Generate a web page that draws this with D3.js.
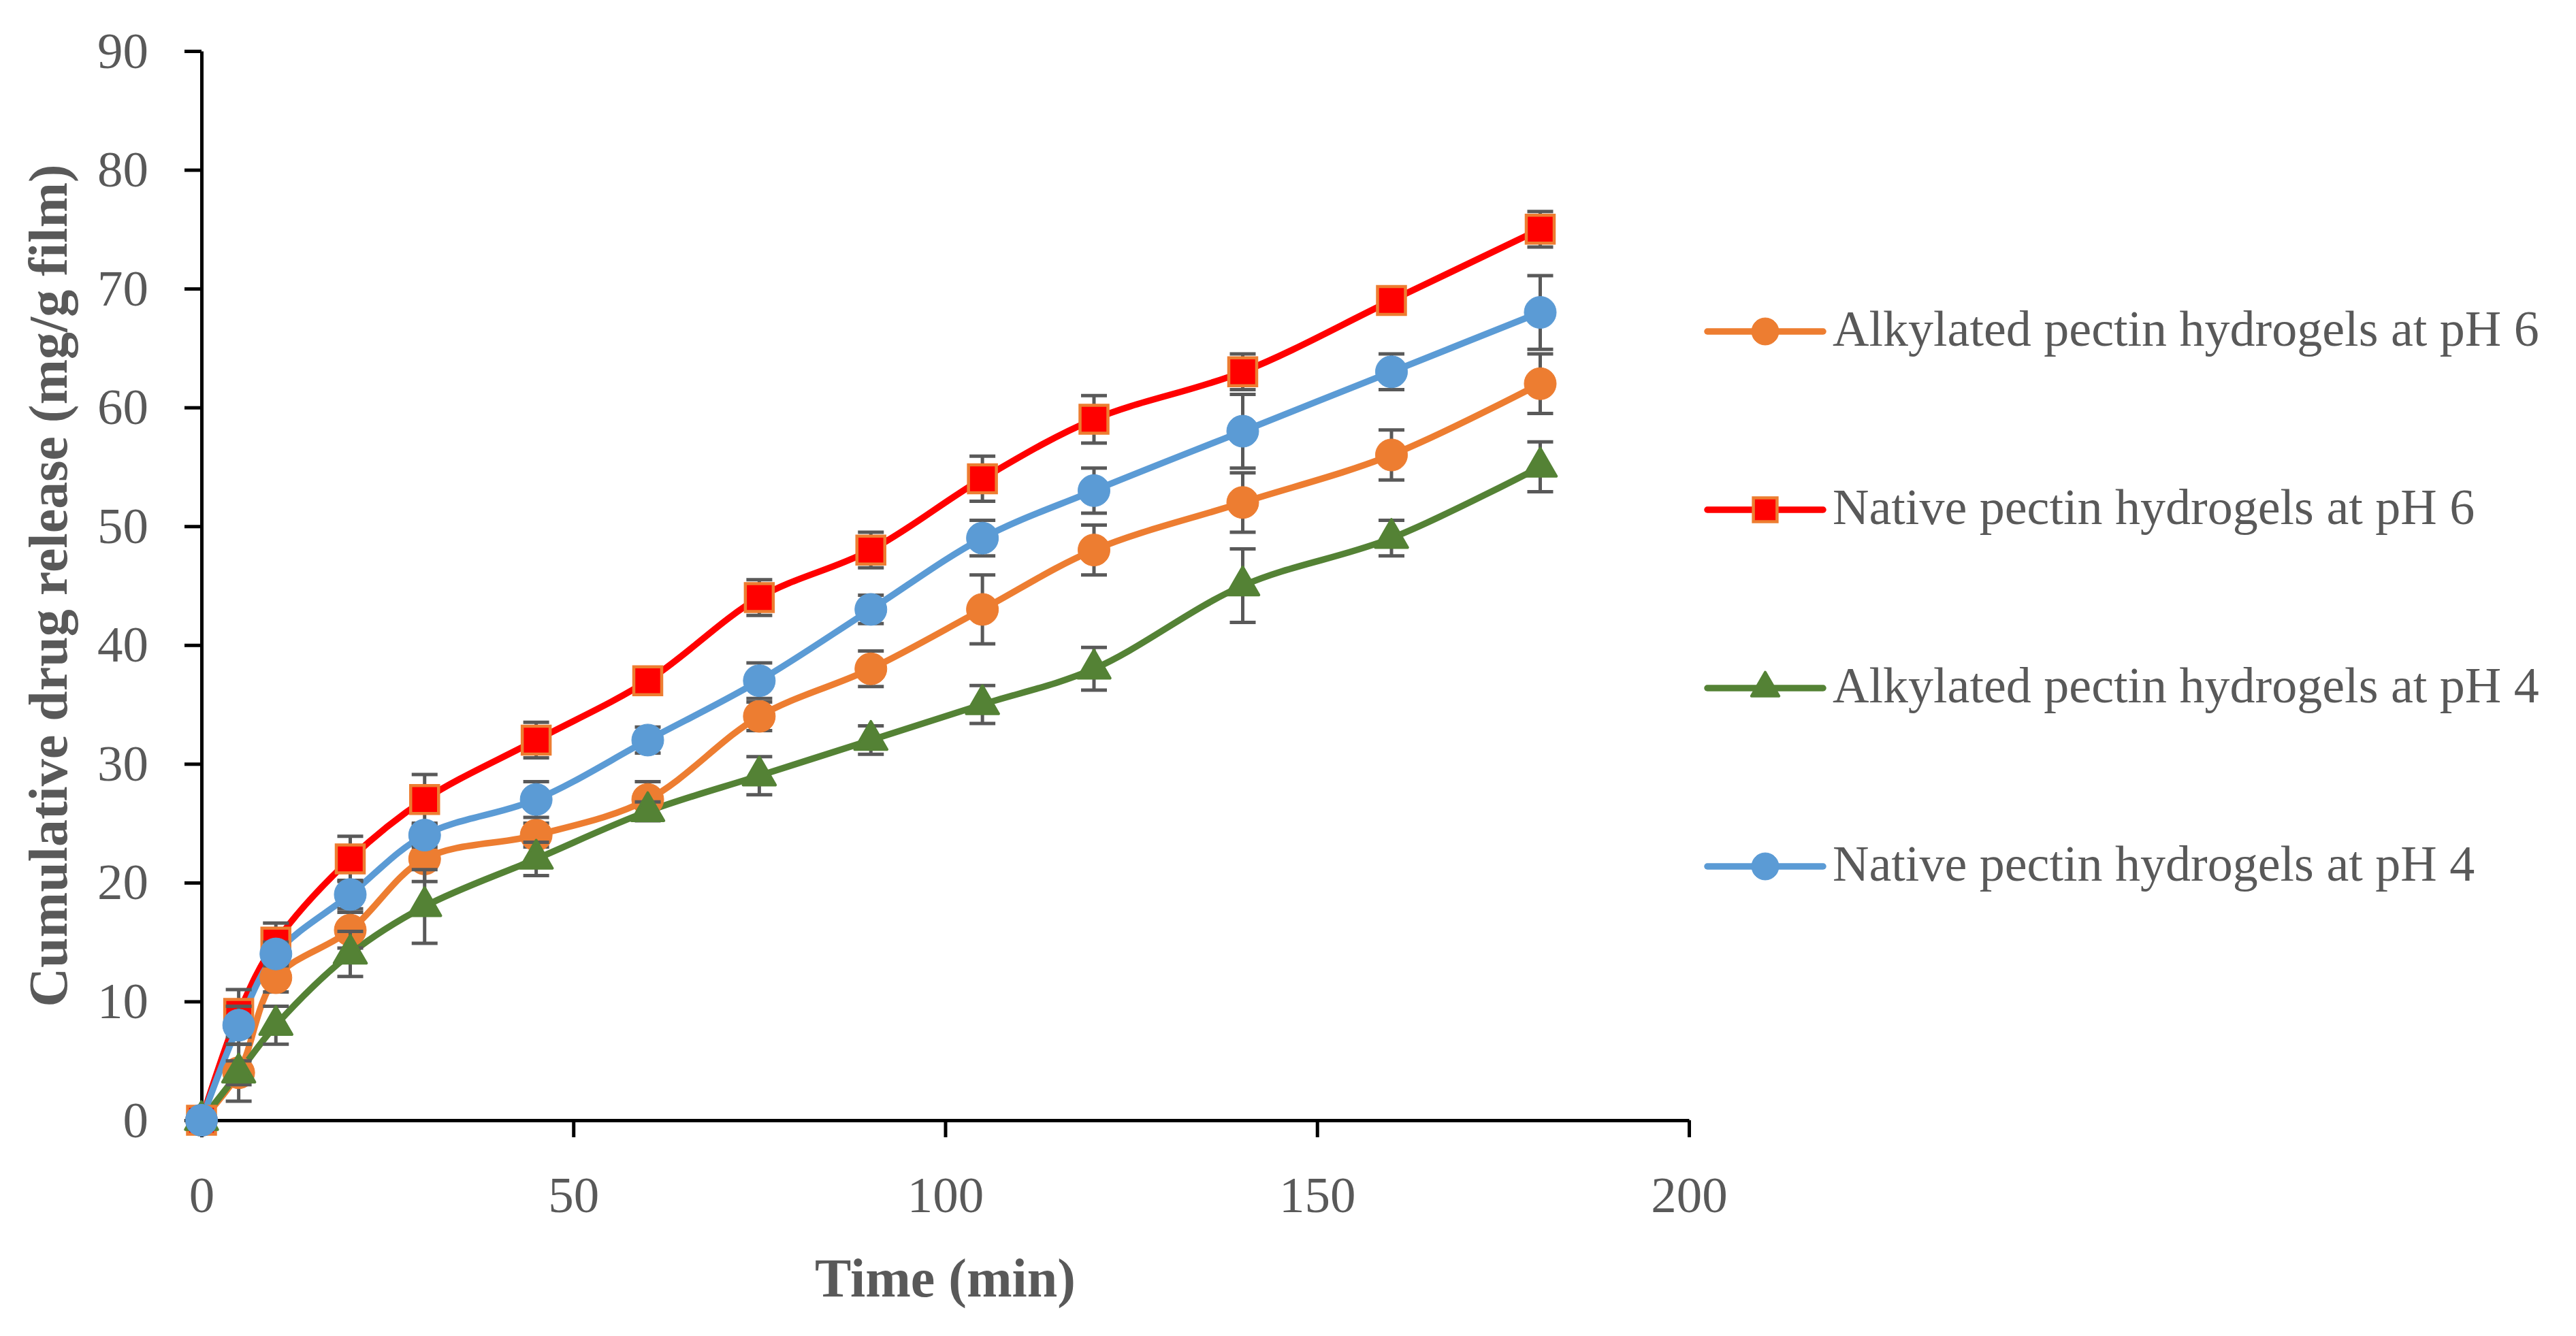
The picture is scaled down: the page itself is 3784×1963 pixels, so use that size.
<!DOCTYPE html>
<html>
<head>
<meta charset="utf-8">
<script src="https://d3js.org/d3.v7.min.js"></script>
<style>
  body { margin: 0; background: #fff; }
  svg { display: block; }
</style>
</head>
<body>
<svg id="chart"></svg>
<script>
// data
const timeMin = [0, 5, 10, 20, 30, 45, 60, 75, 90, 105, 120, 140, 160, 180];

const alkPH6 = [0, 4, 12, 16, 22, 24, 27, 34, 38, 43, 48, 52, 56, 62];
const alkPH6Err = [0, 2.4, 1.2, 1.5, 1.9, 1.0, 1.5, 1.2, 1.5, 2.9, 2.1, 2.5, 2.1, 2.5];

const natPH6 = [0, 9, 15, 22, 27, 32, 37, 44, 48, 54, 59, 63, 69, 75];
const natPH6Err = [0, 2.0, 1.6, 1.9, 2.1, 1.5, 0.8, 1.5, 1.5, 1.9, 2.0, 1.5, 0.8, 1.5];

const alkPH4 = [0, 4, 8, 14, 18, 22, 26, 29, 32, 35, 38, 45, 49, 55];
const alkPH4Err = [0, 1.0, 1.6, 1.9, 3.1, 1.4, 0.8, 1.6, 1.2, 1.6, 1.8, 3.1, 1.5, 2.1];

const natPH4 = [0, 8, 14, 19, 24, 27, 32, 37, 43, 49, 53, 58, 63, 68];
const natPH4Err = [0, 1.6, 1.0, 1.2, 1.0, 1.5, 1.1, 1.5, 1.2, 1.5, 1.9, 3.1, 1.5, 3.1];

const seriesNames = [
  "Alkylated pectin hydrogels at pH 6",
  "Native pectin hydrogels at pH 6",
  "Alkylated pectin hydrogels at pH 4",
  "Native pectin hydrogels at pH 4"
];

const xTicks = [0, 50, 100, 150, 200];
const yTicks = [0, 10, 20, 30, 40, 50, 60, 70, 80, 90];

// ---- layout / style
const W = 3784, H = 1963;
const font = "'Liberation Serif', 'Times New Roman', serif";
const textColor = "#595959";

const series = [
  { name: seriesNames[0], vals: alkPH6, err: alkPH6Err, color: "#ED7D31", shape: "circle" },
  { name: seriesNames[1], vals: natPH6, err: natPH6Err, color: "#FF0000", shape: "square" },
  { name: seriesNames[2], vals: alkPH4, err: alkPH4Err, color: "#548235", shape: "triangle" },
  { name: seriesNames[3], vals: natPH4, err: natPH4Err, color: "#5B9BD5", shape: "circle" }
];

const svg = d3.select("#chart").attr("width", W).attr("height", H);
svg.append("rect").attr("width", W).attr("height", H).attr("fill", "#fff");

const x = d3.scaleLinear().domain([0, 200]).range([296, 2481]);
const y = d3.scaleLinear().domain([0, 90]).range([1646, 75]);

// axes
const yAxis = svg.append("g")
  .attr("transform", `translate(${x(0)},0)`)
  .call(d3.axisLeft(y).tickValues(yTicks).tickSize(25).tickSizeOuter(0).tickPadding(53));

const xAxis = svg.append("g")
  .attr("transform", `translate(0,${y(0)})`)
  .call(d3.axisBottom(x).tickValues(xTicks).tickSize(25).tickSizeOuter(0).tickPadding(57));

[xAxis, yAxis].forEach(a => {
  a.select(".domain").attr("stroke", "#000").attr("stroke-width", 5);
  a.selectAll(".tick line").attr("stroke", "#000").attr("stroke-width", 5);
  a.selectAll(".tick text")
    .attr("fill", textColor)
    .style("font-family", font)
    .style("font-size", "75px");
});

// axis titles
svg.append("text")
  .attr("x", (x(0) + x(200)) / 2)
  .attr("y", 1905)
  .attr("text-anchor", "middle")
  .attr("fill", textColor)
  .style("font-family", font)
  .style("font-size", "80px")
  .style("font-weight", "bold")
  .text("Time (min)");

svg.append("text")
  .attr("transform", `translate(98,${(y(0) + y(90)) / 2}) rotate(-90)`)
  .attr("text-anchor", "middle")
  .attr("fill", textColor)
  .style("font-family", font)
  .style("font-size", "80px")
  .style("font-weight", "bold")
  .text("Cumulative drug release (mg/g film)");

// markers
function markerPath(shape, big) {
  const k = big ? 1 : 0.72;
  if (shape === "square") return d3.symbol(d3.symbolSquare, 1681 * k)();
  if (shape === "triangle") return d3.symbol(d3.symbolTriangle, 980 * k)();
  return d3.symbol(d3.symbolCircle, 1735 * k)();
}

function styleMarker(sel, s) {
  if (s.shape === "square") {
    sel.attr("fill", "#FF0000").attr("stroke", "#ED7D31").attr("stroke-width", 4.5);
  } else {
    sel.attr("fill", s.color).attr("stroke", s.color)
      .attr("stroke-width", s.shape === "triangle" ? 4 : 1)
      .attr("stroke-linejoin", "round");
  }
}

const line = d3.line()
  .x((d, i) => x(timeMin[i]))
  .y(d => y(d))
  .curve(d3.curveCatmullRom.alpha(0.5));

const plot = svg.append("g");

series.forEach(s => {
  plot.append("path")
    .attr("d", line(s.vals))
    .attr("fill", "none")
    .attr("stroke", s.color)
    .attr("stroke-width", 9.5)
    .attr("stroke-linecap", "round")
    .attr("stroke-linejoin", "round");
});

series.forEach(s => {
  const g = plot.append("g");
  // error bars
  s.vals.forEach((v, i) => {
    const e = s.err[i];
    if (!e) return;
    const cx = x(timeMin[i]);
    const eb = g.append("g").attr("stroke", "#595959").attr("stroke-width", 5);
    eb.append("line").attr("x1", cx).attr("x2", cx).attr("y1", y(v - e)).attr("y2", y(v + e));
    eb.append("line").attr("x1", cx - 19).attr("x2", cx + 19).attr("y1", y(v - e)).attr("y2", y(v - e));
    eb.append("line").attr("x1", cx - 19).attr("x2", cx + 19).attr("y1", y(v + e)).attr("y2", y(v + e));
  });
  s.vals.forEach((v, i) => {
    g.append("path")
      .attr("d", markerPath(s.shape, true))
      .attr("transform", `translate(${x(timeMin[i])},${y(v)})`)
      .call(styleMarker, s);
  });
});

// legend
const legend = svg.append("g").attr("transform", "translate(2508,487)");
series.forEach((s, i) => {
  const row = legend.append("g").attr("transform", `translate(0,${i * 262})`);
  row.append("line")
    .attr("x1", 0).attr("x2", 170).attr("y1", 0).attr("y2", 0)
    .attr("stroke", s.color).attr("stroke-width", 9.5).attr("stroke-linecap", "round");
  row.append("path")
    .attr("d", markerPath(s.shape, false))
    .attr("transform", "translate(85,0)")
    .call(styleMarker, s);
  row.append("text")
    .attr("x", 184).attr("y", 21)
    .attr("fill", textColor)
    .style("font-family", font)
    .style("font-size", "74px")
    .text(s.name);
});
</script>
</body>
</html>
